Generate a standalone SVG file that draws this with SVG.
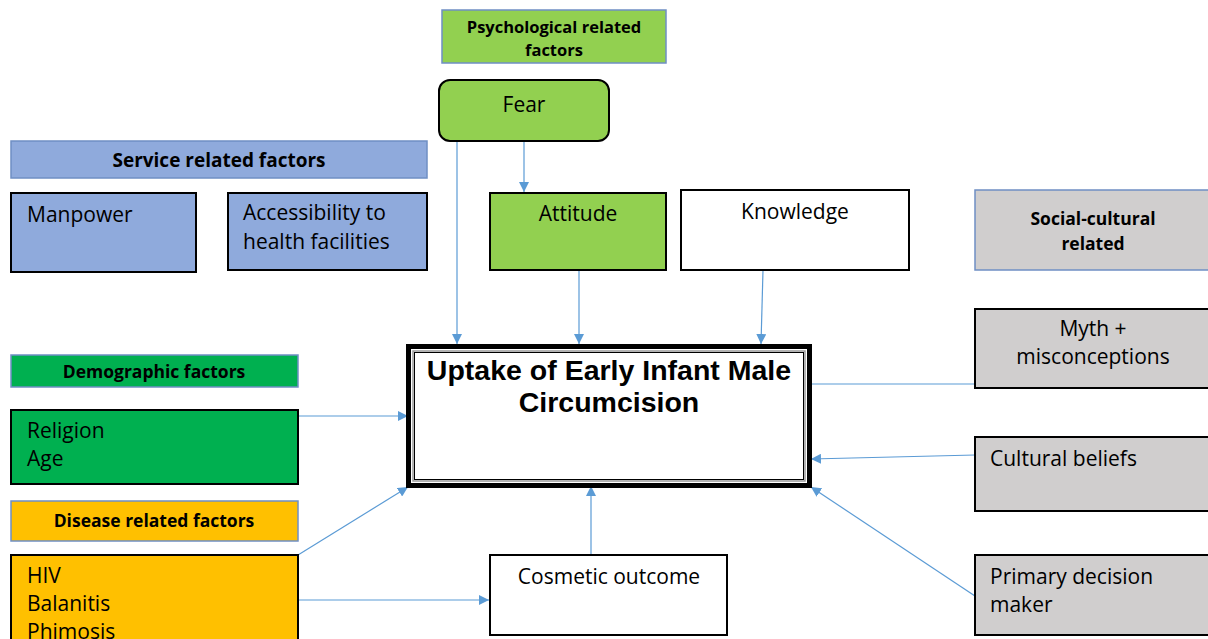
<svg xmlns="http://www.w3.org/2000/svg" width="1208" height="639" viewBox="0 0 1208 639">
<defs>
<style>
.t{font-family:"Open Sans","Noto Sans","Liberation Sans",sans-serif;font-size:21px;fill:#000}
.h{font-family:"Open Sans","Noto Sans","Liberation Sans",sans-serif;font-size:17.5px;font-weight:bold;fill:#000;text-anchor:middle}
.hb{stroke:#6F8FC4;stroke-width:1.5}
.nb{stroke:#000;stroke-width:2}
.c{stroke:#5B9BD5;stroke-width:1.2;fill:none}
.m{text-anchor:middle}
.ti{font-family:"Liberation Sans",Arial,sans-serif;font-size:28.5px;font-weight:bold;text-anchor:middle;fill:#000}
</style>
<marker id="a" viewBox="0 0 10 10" refX="10" refY="5" markerWidth="10" markerHeight="10" markerUnits="userSpaceOnUse" orient="auto">
<path d="M0,0 L10,5 L0,10 z" fill="#5B9BD5"/>
</marker>
</defs>
<rect width="1208" height="639" fill="#fff"/>

<g id="connectors">
<path class="c" d="M457,141 V344" marker-end="url(#a)"/>
<path class="c" d="M524,141 V192" marker-end="url(#a)"/>
<path class="c" d="M579,270 V344" marker-end="url(#a)"/>
<path class="c" d="M763,270 L761,344" marker-end="url(#a)"/>
<path class="c" d="M975,384 H811"/>
<path class="c" d="M975,455 L811,459" marker-end="url(#a)"/>
<path class="c" d="M975,596 L811,487" marker-end="url(#a)"/>
<path class="c" d="M591,555 V486" marker-end="url(#a)"/>
<path class="c" d="M298,416 H408" marker-end="url(#a)"/>
<path class="c" d="M298,555 L408,487" marker-end="url(#a)"/>
<path class="c" d="M298,600 H489" marker-end="url(#a)"/>
</g>

<g id="psych-header">
<rect class="hb" x="442" y="10" width="224" height="53" fill="#92D050"/>
<text class="h" x="554" y="33" style="font-size:16.5px">Psychological related</text>
<text class="h" x="554" y="56" style="font-size:16.5px">factors</text>
</g>
<g id="fear">
<rect class="nb" x="439" y="80" width="170" height="61" rx="11" fill="#92D050"/>
<text class="t m" x="524" y="112">Fear</text>
</g>

<g id="service-header">
<rect class="hb" x="11" y="141" width="416" height="37" fill="#8FAADC"/>
<text class="h" x="219" y="167" style="font-size:19px">Service related factors</text>
</g>
<g id="manpower">
<rect class="nb" x="11" y="193" width="185" height="79" fill="#8FAADC"/>
<text class="t" x="27" y="222">Manpower</text>
</g>
<g id="accessibility">
<rect class="nb" x="228" y="193" width="199" height="77" fill="#8FAADC"/>
<text class="t" x="243" y="220">Accessibility to</text>
<text class="t" x="243" y="249">health facilities</text>
</g>

<g id="attitude">
<rect class="nb" x="490" y="193" width="176" height="77" fill="#92D050"/>
<text class="t m" x="578" y="221">Attitude</text>
</g>
<g id="knowledge">
<rect class="nb" x="681" y="190" width="228" height="80" fill="#fff"/>
<text class="t m" x="795" y="219">Knowledge</text>
</g>

<g id="social-header">
<rect class="hb" x="975" y="190" width="240" height="80" fill="#D0CECE"/>
<text class="h" x="1093" y="225">Social-cultural</text>
<text class="h" x="1093" y="250">related</text>
</g>
<g id="myth">
<rect class="nb" x="975" y="309" width="240" height="79" fill="#D0CECE"/>
<text class="t m" x="1093" y="336">Myth +</text>
<text class="t m" x="1093" y="364">misconceptions</text>
</g>
<g id="cultural">
<rect class="nb" x="975" y="437" width="240" height="74" fill="#D0CECE"/>
<text class="t" x="990" y="466">Cultural beliefs</text>
</g>
<g id="decision">
<rect class="nb" x="975" y="555" width="240" height="80" fill="#D0CECE"/>
<text class="t" x="990" y="584">Primary decision</text>
<text class="t" x="990" y="612">maker</text>
</g>

<g id="demo-header">
<rect class="hb" x="11" y="355" width="287" height="32" fill="#00B050"/>
<text class="h" x="154" y="378">Demographic factors</text>
</g>
<g id="religion">
<rect class="nb" x="11" y="410" width="287" height="74" fill="#00B050"/>
<text class="t" x="27" y="438">Religion</text>
<text class="t" x="27" y="466">Age</text>
</g>
<g id="disease-header">
<rect class="hb" x="11" y="501" width="287" height="40" fill="#FFC000"/>
<text class="h" x="154" y="527">Disease related factors</text>
</g>
<g id="disease">
<rect class="nb" x="11" y="555" width="287" height="100" fill="#FFC000"/>
<text class="t" x="27" y="583">HIV</text>
<text class="t" x="27" y="611">Balanitis</text>
<text class="t" x="27" y="639">Phimosis</text>
</g>

<g id="cosmetic">
<rect class="nb" x="490" y="555" width="237" height="80" fill="#fff"/>
<text class="t m" x="609" y="584">Cosmetic outcome</text>
</g>

<g id="center">
<rect x="408.5" y="346.5" width="401" height="139" fill="#fff" stroke="#000" stroke-width="5"/>
<rect x="413" y="351" width="392" height="130" fill="none" stroke="#999" stroke-width="1.5"/>
<rect x="414.5" y="352.5" width="389" height="127" fill="none" stroke="#000" stroke-width="1"/>
<text class="ti" x="609" y="380">Uptake of Early Infant Male</text>
<text class="ti" x="609" y="412">Circumcision</text>
</g>
</svg>
